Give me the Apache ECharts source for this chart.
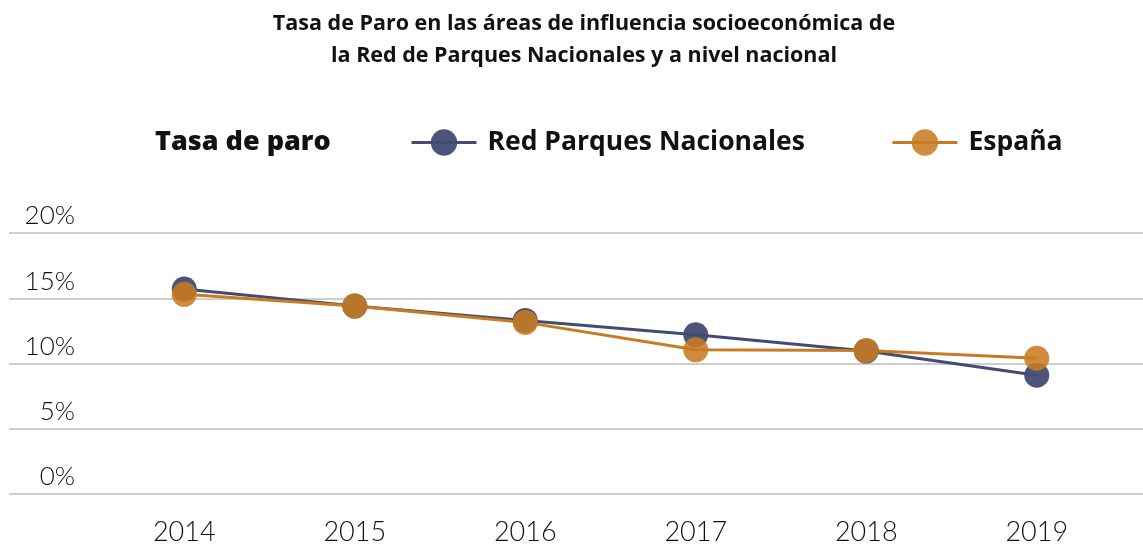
<!DOCTYPE html>
<html>
<head>
<meta charset="utf-8">
<script src="https://cdn.jsdelivr.net/npm/echarts@6/dist/echarts.min.js"></script>
<style>
  html, body { margin: 0; padding: 0; background: #fff; }
  #chart { width: 1143px; height: 546px; }
</style>
</head>
<body>
<div id="chart"></div>
<script>
// years on the x axis
const years = ['2014', '2015', '2016', '2017', '2018', '2019'];
// unemployment rate, %
const redParques = [15.7, 14.4, 13.3, 12.2, 10.95, 9.1];
const espana = [15.3, 14.4, 13.15, 11.05, 11.0, 10.4];

const navy = '#434b73';
const orange = '#c97b22';
const font = 'Lato';
const headFont = 'Open Sans';

const chart = echarts.init(document.getElementById('chart'));

chart.setOption({
    animation: false,
    title: [
        {
            text: 'Tasa de Paro en las áreas de influencia socioeconómica de\nla Red de Parques Nacionales y a nivel nacional',
            left: 579,
            textAlign: 'center',
            top: 3,
            textStyle: {
                fontFamily: headFont,
                fontSize: 21.5,
                fontWeight: 'bold',
                color: '#111',
                lineHeight: 32
            }
        },
        {
            text: 'Tasa de paro',
            left: 150,
            top: 124,
            textStyle: {
                fontFamily: headFont,
                fontSize: 27,
                fontWeight: 800,
                color: '#111'
            }
        }
    ],
    legend: {
        left: 410,
        top: 129,
        padding: 0,
        itemWidth: 65,
        itemHeight: 33,
        itemGap: 86,
        lineStyle: { width: 3 },
        textStyle: {
            fontFamily: headFont,
            fontSize: 26.5,
            fontWeight: 'bold',
            color: '#111',
            padding: [0, 0, 0, 6]
        },
        data: ['Red Parques Nacionales', 'España']
    },
    grid: [
        { left: 9, right: 0, top: 233, bottom: 52 },
        { left: 99, right: 21, top: 233, bottom: 52 }
    ],
    xAxis: [
        { gridIndex: 0, type: 'value', show: false },
        {
            gridIndex: 1,
            type: 'category',
            data: years,
            axisLine: { show: false },
            axisTick: { show: false },
            axisLabel: {
                margin: 25,
                fontFamily: font,
                fontSize: 27,
                fontWeight: 300,
                color: '#111'
            }
        }
    ],
    yAxis: [
        {
            gridIndex: 0,
            type: 'value',
            min: 0,
            max: 20,
            interval: 5,
            axisLine: { show: false },
            axisTick: { show: false },
            splitLine: { lineStyle: { color: '#bdbdbd', width: 1.5 } },
            axisLabel: {
                margin: -66,
                verticalAlign: 'bottom',
                padding: [0, 0, 4, 0],
                formatter: '{value}%',
                fontFamily: font,
                fontSize: 26,
                fontWeight: 300,
                color: '#111'
            }
        },
        { gridIndex: 1, type: 'value', min: 0, max: 20, show: false }
    ],
    series: [
        {
            name: 'Red Parques Nacionales',
            type: 'line',
            xAxisIndex: 1,
            yAxisIndex: 1,
            data: redParques,
            symbol: 'circle',
            symbolSize: 25,
            lineStyle: { color: navy, width: 3 },
            itemStyle: { color: navy, opacity: 0.95 }
        },
        {
            name: 'España',
            type: 'line',
            xAxisIndex: 1,
            yAxisIndex: 1,
            data: espana,
            symbol: 'circle',
            symbolSize: 25,
            lineStyle: { color: orange, width: 3 },
            itemStyle: { color: orange, opacity: 0.88 }
        }
    ]
});
</script>
</body>
</html>
